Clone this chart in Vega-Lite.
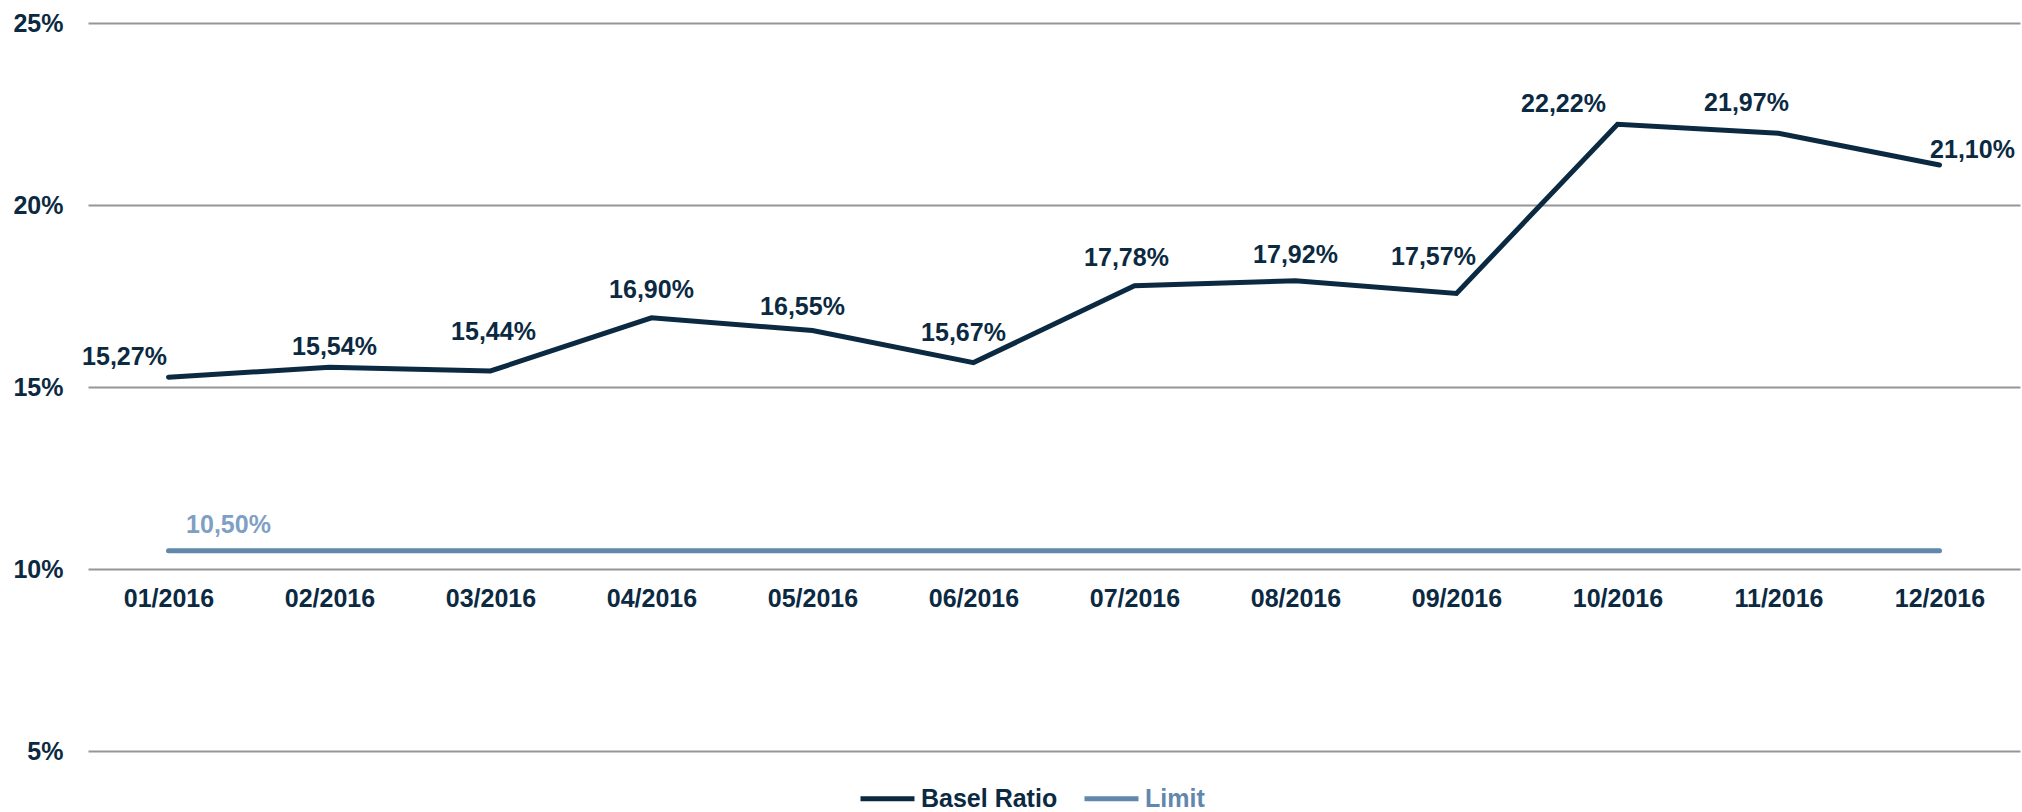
{
  "$schema": "https://vega.github.io/schema/vega-lite/v6.json",
  "autosize": "none",
  "width": 1932,
  "height": 728,
  "padding": {"left": 88, "top": 23, "right": 2, "bottom": 61},
  "config": {
    "locale": {"number": {"decimal": ",", "thousands": ".", "grouping": [3], "currency": ["", " €"]}},
    "view": {"stroke": null},
    "font": "Liberation Sans",
    "text": {"font": "Liberation Sans", "fontSize": 25, "fontWeight": "bold", "baseline": "middle", "align": "center", "color": "#0b2a42"}
  },
  "data": {"values": [
    {"month": "01/2016", "series": "Basel Ratio", "value": 0.1527},
    {"month": "02/2016", "series": "Basel Ratio", "value": 0.1554},
    {"month": "03/2016", "series": "Basel Ratio", "value": 0.1544},
    {"month": "04/2016", "series": "Basel Ratio", "value": 0.1690},
    {"month": "05/2016", "series": "Basel Ratio", "value": 0.1655},
    {"month": "06/2016", "series": "Basel Ratio", "value": 0.1567},
    {"month": "07/2016", "series": "Basel Ratio", "value": 0.1778},
    {"month": "08/2016", "series": "Basel Ratio", "value": 0.1792},
    {"month": "09/2016", "series": "Basel Ratio", "value": 0.1757},
    {"month": "10/2016", "series": "Basel Ratio", "value": 0.2222},
    {"month": "11/2016", "series": "Basel Ratio", "value": 0.2197},
    {"month": "12/2016", "series": "Basel Ratio", "value": 0.2110},
    {"month": "01/2016", "series": "Limit", "value": 0.105},
    {"month": "02/2016", "series": "Limit", "value": 0.105},
    {"month": "03/2016", "series": "Limit", "value": 0.105},
    {"month": "04/2016", "series": "Limit", "value": 0.105},
    {"month": "05/2016", "series": "Limit", "value": 0.105},
    {"month": "06/2016", "series": "Limit", "value": 0.105},
    {"month": "07/2016", "series": "Limit", "value": 0.105},
    {"month": "08/2016", "series": "Limit", "value": 0.105},
    {"month": "09/2016", "series": "Limit", "value": 0.105},
    {"month": "10/2016", "series": "Limit", "value": 0.105},
    {"month": "11/2016", "series": "Limit", "value": 0.105},
    {"month": "12/2016", "series": "Limit", "value": 0.105}
  ]},
  "encoding": {
    "x": {
      "field": "month", "type": "ordinal", "sort": null,
      "scale": {"type": "point", "padding": 0.5},
      "axis": {"title": null, "orient": "bottom", "offset": -182, "domain": false, "ticks": false, "grid": false,
        "labelAngle": 0, "labelFont": "Liberation Sans", "labelFontSize": 25, "labelFontWeight": "bold",
        "labelColor": "#0b2a42", "labelBaseline": "middle", "labelPadding": 29}
    },
    "y": {
      "field": "value", "type": "quantitative",
      "scale": {"domain": [0.05, 0.25], "nice": false, "zero": false},
      "axis": {"title": null, "values": [0.05, 0.10, 0.15, 0.20, 0.25], "format": ".0%", "domain": false, "ticks": false,
        "grid": true, "gridColor": "#969696", "gridWidth": 2,
        "labelFont": "Liberation Sans", "labelFontSize": 25, "labelFontWeight": "bold", "labelColor": "#0b2a42",
        "labelPadding": 25}
    }
  },
  "layer": [
    {
      "mark": {"type": "line", "strokeWidth": 5, "strokeCap": "round", "strokeJoin": "miter"},
      "encoding": {
        "color": {
          "field": "series", "type": "nominal",
          "scale": {"domain": ["Basel Ratio", "Limit"], "range": ["#0b2a42", "#6187ad"]},
          "legend": {
            "title": null, "orient": "none", "direction": "horizontal", "legendX": 770, "legendY": 746,
            "symbolType": "stroke", "symbolSize": 2916, "symbolStrokeWidth": 5,
            "labelFont": "Liberation Sans", "labelFontSize": 25, "labelFontWeight": "bold",
            "labelOffset": 4, "columnPadding": 16, "labelLimit": 400,
            "encode": {"labels": {"update": {"fill": {"signal": "datum.label === 'Limit' ? '#6187ad' : '#0b2a42'"}}}}
          }
        }
      }
    },
    {"transform": [{"filter": "datum.series === 'Limit' && datum.month === '01/2016'"}],
     "mark": {"type": "text", "dx": 60, "dy": -26, "color": "#809fc4"},
     "encoding": {"text": {"field": "value", "format": ".2%"}}},
    {"transform": [{"filter": "datum.series === 'Basel Ratio' && datum.month === '01/2016'"}],
     "mark": {"type": "text", "dx": -44, "dy": -20}, "encoding": {"text": {"field": "value", "format": ".2%"}}},
    {"transform": [{"filter": "datum.series === 'Basel Ratio' && datum.month === '02/2016'"}],
     "mark": {"type": "text", "dx": 5, "dy": -20}, "encoding": {"text": {"field": "value", "format": ".2%"}}},
    {"transform": [{"filter": "datum.series === 'Basel Ratio' && datum.month === '03/2016'"}],
     "mark": {"type": "text", "dx": 3, "dy": -39}, "encoding": {"text": {"field": "value", "format": ".2%"}}},
    {"transform": [{"filter": "datum.series === 'Basel Ratio' && datum.month === '04/2016'"}],
     "mark": {"type": "text", "dx": 0, "dy": -28}, "encoding": {"text": {"field": "value", "format": ".2%"}}},
    {"transform": [{"filter": "datum.series === 'Basel Ratio' && datum.month === '05/2016'"}],
     "mark": {"type": "text", "dx": -10, "dy": -24}, "encoding": {"text": {"field": "value", "format": ".2%"}}},
    {"transform": [{"filter": "datum.series === 'Basel Ratio' && datum.month === '06/2016'"}],
     "mark": {"type": "text", "dx": -10, "dy": -30}, "encoding": {"text": {"field": "value", "format": ".2%"}}},
    {"transform": [{"filter": "datum.series === 'Basel Ratio' && datum.month === '07/2016'"}],
     "mark": {"type": "text", "dx": -8, "dy": -28}, "encoding": {"text": {"field": "value", "format": ".2%"}}},
    {"transform": [{"filter": "datum.series === 'Basel Ratio' && datum.month === '08/2016'"}],
     "mark": {"type": "text", "dx": 0, "dy": -26}, "encoding": {"text": {"field": "value", "format": ".2%"}}},
    {"transform": [{"filter": "datum.series === 'Basel Ratio' && datum.month === '09/2016'"}],
     "mark": {"type": "text", "dx": -23, "dy": -36}, "encoding": {"text": {"field": "value", "format": ".2%"}}},
    {"transform": [{"filter": "datum.series === 'Basel Ratio' && datum.month === '10/2016'"}],
     "mark": {"type": "text", "dx": -54, "dy": -20}, "encoding": {"text": {"field": "value", "format": ".2%"}}},
    {"transform": [{"filter": "datum.series === 'Basel Ratio' && datum.month === '11/2016'"}],
     "mark": {"type": "text", "dx": -32, "dy": -30}, "encoding": {"text": {"field": "value", "format": ".2%"}}},
    {"transform": [{"filter": "datum.series === 'Basel Ratio' && datum.month === '12/2016'"}],
     "mark": {"type": "text", "dx": 33, "dy": -15}, "encoding": {"text": {"field": "value", "format": ".2%"}}}
  ]
}
